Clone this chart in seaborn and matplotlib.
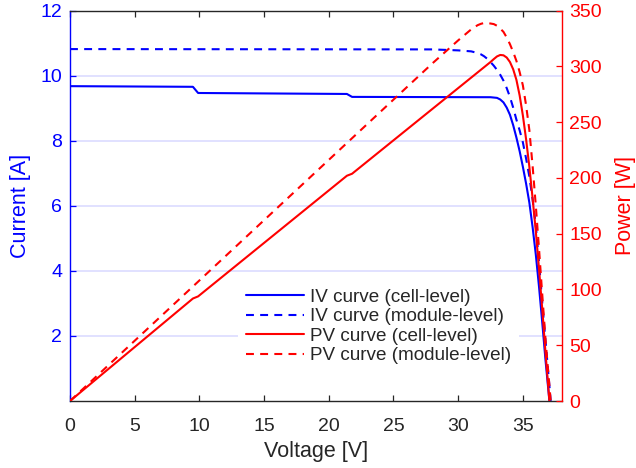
import numpy as np
import pandas as pd
import matplotlib
matplotlib.use("Agg")
import matplotlib.pyplot as plt
import seaborn as sns

# ---- data ----
V_cell = [0, 9.5, 9.9, 21.4, 21.8, 32.5, 32.75, 33.0, 33.25, 33.5, 33.75, 34.0, 34.25,
          34.5, 34.75, 35.0, 35.25, 35.5, 35.75, 36.0, 36.25, 36.5, 36.75, 37.05]
I_cell = [9.68, 9.66, 9.47, 9.44, 9.35, 9.34, 9.33, 9.32, 9.27, 9.18, 9.02, 8.8, 8.48,
          8.1, 7.68, 7.2, 6.68, 6.1, 5.35, 4.5, 3.5, 2.4, 1.25, 0.0]
P_cell = [0, 91.9, 93.8, 202.0, 203.8, 304, 306.6, 309, 310.3, 310, 308, 304, 297.5,
          288, 274, 256, 234.5, 210, 182, 152, 118, 82, 43, 0]

V_mod = [0, 28.0, 30.0, 31.0, 31.5, 31.75, 32.0, 32.25, 32.5, 32.75, 33.0, 33.25, 33.5,
         33.75, 34.0, 34.25, 34.5, 34.75, 35.0, 35.25, 35.5, 35.75, 36.0, 36.25, 36.5,
         36.75, 37.15]
I_mod = [10.82, 10.81, 10.78, 10.75, 10.7, 10.66, 10.6, 10.52, 10.42, 10.31, 10.18, 10.03,
         9.85, 9.62, 9.35, 9.02, 8.65, 8.32, 7.95, 7.45, 6.9, 6.2, 5.4, 4.25, 3.0, 1.85, 0.0]
P_mod = [0, 302.7, 323.4, 333.2, 337.0, 338.2, 339.0, 339.0, 338.5, 338.0, 336.5, 334,
         331, 326, 320, 313, 305, 295, 283, 265, 243, 211, 175, 136, 95, 55, 0]

x_ticks = [0, 5, 10, 15, 20, 25, 30, 35]
y1_ticks = [2, 4, 6, 8, 10, 12]
y2_ticks = [0, 50, 100, 150, 200, 250, 300, 350]

labels = ["IV curve (cell-level)", "IV curve (module-level)",
          "PV curve (cell-level)", "PV curve (module-level)"]

# ---- style ----
sns.set_style("ticks")
plt.rcParams["font.family"] = ["Liberation Sans", "DejaVu Sans"]

W, H = 636, 468
fig = plt.figure(figsize=(W / 100, H / 100), dpi=100)
left, right, bottom, top = 70, 561.7, 401, 10.7
ax1 = fig.add_axes([left / W, 1 - bottom / H, (right - left) / W, (bottom - top) / H])
ax2 = ax1.twinx()

BLUE = (0, 0, 1)
RED = (1, 0, 0)
DARK = "#262626"
LW = 1.5
DASH = (3.8, 3.0)

df_cell = pd.DataFrame({"V": V_cell, "I": I_cell, "P": P_cell})
df_mod = pd.DataFrame({"V": V_mod, "I": I_mod, "P": P_mod})

sns.lineplot(data=df_cell, x="V", y="I", ax=ax1, color=BLUE, lw=LW, sort=False,
             estimator=None, legend=False)
sns.lineplot(data=df_mod, x="V", y="I", ax=ax1, color=BLUE, lw=LW, sort=False,
             estimator=None, legend=False)
ax1.lines[1].set_dashes(DASH)

sns.lineplot(data=df_cell, x="V", y="P", ax=ax2, color=RED, lw=LW, sort=False,
             estimator=None, legend=False)
sns.lineplot(data=df_mod, x="V", y="P", ax=ax2, color=RED, lw=LW, sort=False,
             estimator=None, legend=False)
ax2.lines[1].set_dashes(DASH)

handles = [ax1.lines[0], ax1.lines[1], ax2.lines[0], ax2.lines[1]]

# ---- axes limits / ticks ----
ax1.set_xlim(0, 38)
ax1.set_ylim(0, 12)
ax2.set_ylim(0, 350)
ax1.set_xticks(x_ticks)
ax1.set_yticks(y1_ticks)
ax2.set_yticks(y2_ticks)

ax1.yaxis.grid(True, color="#d8d8ff", lw=1.1)
ax1.xaxis.grid(False)
ax1.set_axisbelow(True)

ax1.tick_params(axis="x", direction="in", top=True, bottom=True, length=4, width=0.9,
                color=DARK, labelcolor=DARK, labelsize=14, pad=12.5)
ax1.tick_params(axis="y", direction="in", left=True, right=False, length=4, width=0.9,
                color=BLUE, labelcolor=BLUE, labelsize=14, pad=5.5)
ax2.tick_params(axis="y", direction="in", right=True, left=False, length=4, width=0.9,
                color=RED, labelcolor=RED, labelsize=14, pad=5.5)

for s in ["top", "bottom"]:
    ax1.spines[s].set_color(DARK)
    ax1.spines[s].set_linewidth(1.0)
ax1.spines["left"].set_color(BLUE)
ax1.spines["left"].set_linewidth(1.0)
ax1.spines["right"].set_visible(False)
for s in ["top", "bottom", "left"]:
    ax2.spines[s].set_visible(False)
ax2.spines["right"].set_color(RED)
ax2.spines["right"].set_linewidth(1.0)

ax1.set_xlabel("Voltage [V]", color=DARK, fontsize=15.5, labelpad=4)
ax1.set_ylabel("Current [A]", color=BLUE, fontsize=15.5, labelpad=7)
ax2.set_ylabel("Power [W]", color=RED, fontsize=15.5, labelpad=9.5)

leg = ax2.legend(handles, labels, loc="center",
                 bbox_to_anchor=(378.3 / W, 1 - 326.5 / H), bbox_transform=fig.transFigure,
                 frameon=True, facecolor="white", edgecolor="none", framealpha=1.0,
                 fontsize=13.6, handlelength=3.1, handletextpad=0.3, labelspacing=0.12,
                 borderpad=0.4, fancybox=False)
leg.set_zorder(10)
for t in leg.get_texts():
    t.set_color(DARK)

fig.savefig("out.png", dpi=100)
